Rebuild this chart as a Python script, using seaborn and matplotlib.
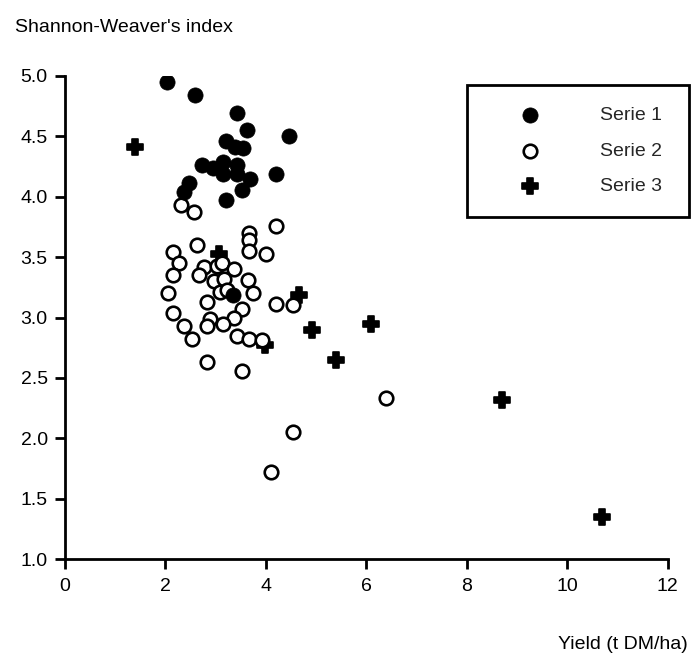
import matplotlib
matplotlib.use("Agg")
import matplotlib.pyplot as plt
import seaborn as sns
import pandas as pd

# ---- data ----
serie1_x = [2.03, 2.58, 3.42, 3.63, 4.46, 3.21, 3.39, 3.54, 2.72, 2.95, 3.15,
            3.14, 3.42, 3.42, 3.69, 4.20, 2.46, 2.36, 3.52, 3.21, 3.35]
serie1_y = [4.95, 4.84, 4.69, 4.55, 4.50, 4.46, 4.41, 4.40, 4.26, 4.24, 4.29,
            4.19, 4.26, 4.19, 4.15, 4.19, 4.11, 4.04, 4.06, 3.97, 3.19]

serie2_x = [2.31, 2.57, 4.20, 3.67, 3.67, 3.67, 4.00, 2.62, 2.15, 2.26, 2.15,
            2.77, 2.67, 3.02, 3.12, 3.37, 2.97, 3.17, 3.64, 3.09, 3.22, 3.74,
            2.05, 2.83, 3.53, 4.20, 4.53, 2.15, 3.37, 2.89, 2.83, 3.14, 2.36,
            2.52, 3.42, 3.67, 3.92, 2.83, 3.52, 6.39, 4.54, 4.10]
serie2_y = [3.93, 3.87, 3.76, 3.70, 3.64, 3.55, 3.53, 3.60, 3.54, 3.45, 3.35,
            3.42, 3.35, 3.43, 3.45, 3.40, 3.30, 3.32, 3.31, 3.21, 3.23, 3.20,
            3.20, 3.13, 3.07, 3.11, 3.10, 3.04, 3.00, 2.99, 2.93, 2.95, 2.93,
            2.82, 2.85, 2.82, 2.81, 2.63, 2.56, 2.33, 2.05, 1.72]

serie3_x = [1.39, 3.07, 4.66, 4.91, 3.98, 6.09, 5.40, 8.70, 10.69]
serie3_y = [4.41, 3.53, 3.19, 2.90, 2.77, 2.95, 2.65, 2.32, 1.35]

series_labels = ["Serie 1", "Serie 2", "Serie 3"]
x_ticks = [0, 2, 4, 6, 8, 10, 12]
y_ticks = [1.0, 1.5, 2.0, 2.5, 3.0, 3.5, 4.0, 4.5, 5.0]
x_title = "Yield (t DM/ha)"
y_title = "Shannon-Weaver's index"

df1 = pd.DataFrame({"x": serie1_x, "y": serie1_y})
df2 = pd.DataFrame({"x": serie2_x, "y": serie2_y})
df3 = pd.DataFrame({"x": serie3_x, "y": serie3_y})

sns.set_theme(style="white")
plt.rcParams["font.family"] = ["Liberation Sans", "DejaVu Sans"]
FS = 14

fig = plt.figure(figsize=(6.93, 6.55), dpi=100)
ax = fig.add_axes([65 / 693, 1 - 559 / 655, (667.7 - 65) / 693, (559 - 76) / 655])

sns.scatterplot(data=df3, x="x", y="y", ax=ax, marker="P", s=125,
                color="black", edgecolor="black", linewidth=1.2,
                label=series_labels[2], zorder=3, legend=False)
sns.scatterplot(data=df2, x="x", y="y", ax=ax, marker="o", s=95,
                facecolor="white", edgecolor="black", linewidth=1.9,
                label=series_labels[1], zorder=4, legend=False)
sns.scatterplot(data=df1, x="x", y="y", ax=ax, marker="o", s=120,
                color="black", edgecolor="black", linewidth=0.5,
                label=series_labels[0], zorder=5, legend=False)

ax.set_xlim(0, 12)
ax.set_ylim(1.0, 5.0)
ax.set_xticks(x_ticks)
ax.set_xticklabels([str(t) for t in x_ticks])
ax.set_yticks(y_ticks)
ax.set_yticklabels([f"{t:.1f}" for t in y_ticks])
ax.set_xlabel("")
ax.set_ylabel("")

for side in ["top", "right"]:
    ax.spines[side].set_visible(False)
for side in ["left", "bottom"]:
    ax.spines[side].set_color("black")
    ax.spines[side].set_linewidth(2.0)
    ax.spines[side].set_capstyle("projecting")

ax.tick_params(axis="both", direction="out", length=7.5, width=2.0,
               color="black", labelsize=FS, labelcolor="black",
               bottom=True, left=True)
ax.tick_params(axis="x", pad=6)
ax.tick_params(axis="y", pad=5)

hmap = {c.get_label(): c for c in ax.collections}
leg = ax.legend([hmap[l] for l in series_labels], series_labels,
                loc="upper left", bbox_to_anchor=(0.667, 0.706, 0.368, 0.275),
                mode="expand", borderaxespad=0, fontsize=FS, frameon=True,
                fancybox=False, shadow=False, framealpha=1,
                edgecolor="black", labelspacing=0.92, borderpad=1.1,
                handlelength=4.28, handletextpad=1.46, scatterpoints=1,
                markerscale=1.0)
leg.get_frame().set_linewidth(2.0)
leg.set_zorder(10)

fig.text(15 / 693, 1 - 32 / 655, y_title, fontsize=FS, ha="left",
         va="baseline", color="black")
fig.text(688 / 693, 1 - 649 / 655, x_title, fontsize=FS, ha="right",
         va="baseline", color="black")

fig.savefig("out.png", dpi=100, facecolor="white")
